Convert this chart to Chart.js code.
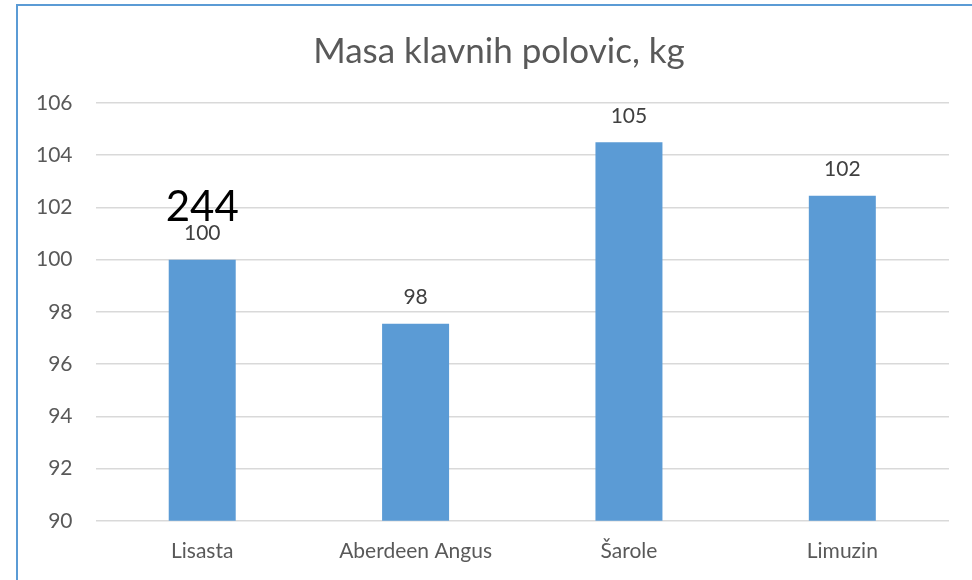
<!DOCTYPE html>
<html>
<head>
<meta charset="utf-8">
<script src="https://cdn.jsdelivr.net/npm/chart.js@4"></script>
<style>
  html, body { margin: 0; padding: 0; background: #fff; overflow: hidden; }
  #chart { position: absolute; left: 0; top: 0; }
  #frame {
    position: absolute; left: 16px; top: 4px; width: 980px; height: 600px;
    border-left: 2px solid #5B9BD5; border-top: 2px solid #5B9BD5;
    pointer-events: none;
  }
</style>
</head>
<body>
<canvas id="chart" width="998" height="580"></canvas>
<div id="frame"></div>
<script>
const chartTitle = 'Masa klavnih polovic, kg';
const breeds = ['Lisasta', 'Aberdeen Angus', 'Šarole', 'Limuzin'];
const carcassMass = [100, 97.55, 104.5, 102.45];
const yTicks = { min: 90, max: 106, step: 2 };
// stray number that sits over the first bar in the original
const stampText = '244';
const stampAt = { index: 0, value: 102 };

// title is drawn by hand: in the original it is centred on the whole frame, not on the plot
const titleCentre = { x: 499, y: 52 };

const extraText = {
    id: 'extraText',
    afterDatasetsDraw(chart) {
        const ctx = chart.ctx;
        const meta = chart.getDatasetMeta(0);
        ctx.save();
        ctx.textAlign = 'center';
        ctx.textBaseline = 'middle';

        ctx.fillStyle = '#595959';
        ctx.font = '35px Lato';
        ctx.fillText(chartTitle, titleCentre.x, titleCentre.y);

        ctx.fillStyle = '#404040';
        ctx.font = '21px Lato';
        meta.data.forEach((bar, i) => {
            ctx.fillText(Math.round(carcassMass[i]), bar.x, bar.y - 26);
        });

        // the big "244"
        const yScale = chart.scales.y;
        ctx.fillStyle = '#000';
        ctx.font = '42px Lato';
        ctx.fillText(stampText, meta.data[stampAt.index].x, yScale.getPixelForValue(stampAt.value));
        ctx.restore();
    }
};

new Chart(document.getElementById('chart'), {
    type: 'bar',
    data: {
        labels: breeds,
        datasets: [{
            data: carcassMass,
            backgroundColor: '#5B9BD5',
            barPercentage: 0.314,
            categoryPercentage: 1
        }]
    },
    options: {
        responsive: false,
        animation: false,
        layout: {
            padding: { left: 13, right: 49, top: 103, bottom: 6 }
        },
        plugins: {
            legend: { display: false },
            tooltip: { enabled: false },
            title: { display: false }
        },
        scales: {
            x: {
                grid: { display: false },
                border: { display: false },
                ticks: {
                    color: '#595959',
                    font: { family: 'Lato', size: 21 },
                    padding: 10
                }
            },
            y: {
                min: yTicks.min,
                max: yTicks.max,
                ticks: {
                    stepSize: yTicks.step,
                    color: '#595959',
                    font: { family: 'Lato', size: 21 },
                    padding: 23
                },
                grid: {
                    color: '#D9D9D9',
                    lineWidth: 1.5,
                    drawTicks: false
                },
                border: { display: false }
            }
        }
    },
    plugins: [extraText]
});
</script>
</body>
</html>
